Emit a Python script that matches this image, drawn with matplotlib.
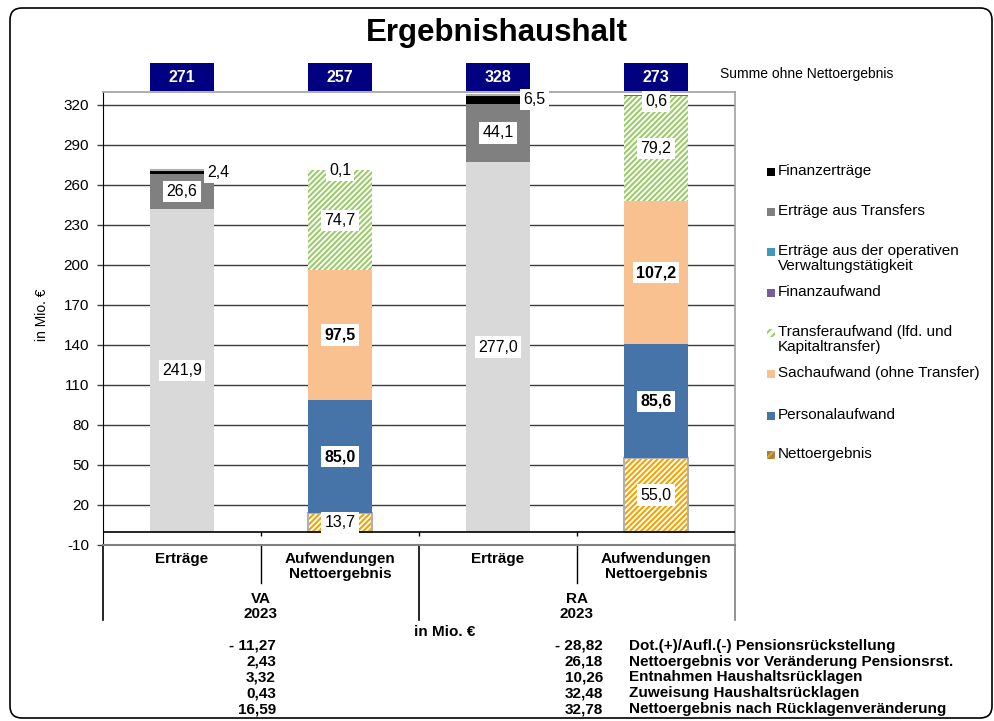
import matplotlib
matplotlib.use("Agg")
import matplotlib.pyplot as plt
from matplotlib.patches import Rectangle, FancyBboxPatch
import matplotlib.transforms as mtransforms
import numpy as np

plt.rcParams['font.family'] = ['Liberation Sans', 'DejaVu Sans']
plt.rcParams['hatch.linewidth'] = 1.5
plt.rcParams['axes.unicode_minus'] = False

# ---------------- data ----------------
categories = ["Erträge", "Aufwendungen\nNettoergebnis", "Erträge", "Aufwendungen\nNettoergebnis"]
groups = ["VA\n2023", "RA\n2023"]

ertraege_operativ = [241.9, 0, 277.0, 0]
ertraege_transfers = [26.6, 0, 44.1, 0]
finanzertraege = [2.4, 0, 6.5, 0]
nettoergebnis = [0, 13.7, 0, 55.0]
personalaufwand = [0, 85.0, 0, 85.6]
sachaufwand = [0, 97.5, 0, 107.2]
transferaufwand = [0, 74.7, 0, 79.2]
finanzaufwand = [0, 0.1, 0, 0.6]
summe_ohne_netto = [271, 257, 328, 273]

yticks = list(range(-10, 321, 30))

table_labels = ["Dot.(+)/Aufl.(-) Pensionsrückstellung",
                "Nettoergebnis vor Veränderung Pensionsrst.",
                "Entnahmen Haushaltsrücklagen",
                "Zuweisung Haushaltsrücklagen",
                "Nettoergebnis nach Rücklagenveränderung"]
table_va = ["- 11,27", "2,43", "3,32", "0,43", "16,59"]
table_ra = ["- 28,82", "26,18", "10,26", "32,48", "32,78"]

legend_labels = ["Finanzerträge", "Erträge aus Transfers",
                 "Erträge aus der operativen\nVerwaltungstätigkeit", "Finanzaufwand",
                 "Transferaufwand (lfd. und\nKapitaltransfer)", "Sachaufwand (ohne Transfer)",
                 "Personalaufwand", "Nettoergebnis"]

# ---------------- figure ----------------
W, H = 995, 721
fig = plt.figure(figsize=(W / 100, H / 100), dpi=100)


def fx(px):
    return px / W


def fy(py):
    return 1 - py / H


ax = fig.add_axes([fx(103), fy(545), fx(735) - fx(103), fy(92) - fy(545)])
ax.set_xlim(-0.5, 3.5)
ytop = -10 + (545 - 92) * 330 / 440
ax.set_ylim(-10, ytop)

for yt in yticks[1:]:
    ax.axhline(yt, color='#3c3c3c', lw=1.0, zorder=0)

ax.set_yticks(yticks)
ax.set_xticks([])
ax.tick_params(axis='y', direction='out', length=4, width=1, color='#404040',
               labelsize=11, pad=6)
for s in ['top', 'right']:
    ax.spines[s].set_color('#a0a0a0')
    ax.spines[s].set_linewidth(1.2)
ax.spines['left'].set_color('black')
ax.spines['bottom'].set_color('#808080')
ax.spines['bottom'].set_linewidth(1.5)

x = np.arange(len(categories))
width = 0.4

GREEN = '#9ccc6a'
ORANGE = '#f5a300'
HATCH = '//////'
series = [
    (ertraege_operativ, dict(color='#d9d9d9'), 'center'),
    (ertraege_transfers, dict(color='#808080'), 'center'),
    (finanzertraege, dict(color='black'), 'side'),
    (nettoergebnis, dict(facecolor='white', edgecolor=ORANGE, hatch=HATCH, linewidth=0), 'center'),
    (personalaufwand, dict(color='#4673a8'), 'bold'),
    (sachaufwand, dict(color='#f9c190'), 'bold'),
    (transferaufwand, dict(facecolor='white', edgecolor=GREEN, hatch=HATCH, linewidth=0), 'center'),
    (finanzaufwand, dict(color='#7a5c9e'), 'top'),
]

bbox = dict(boxstyle='square,pad=0.2', fc='white', ec='none')
LFS = 11.5
bottom = np.zeros(len(x))
for vals, style, lab in series:
    vals = np.array(vals, dtype=float)
    ax.bar(x, vals, width, bottom=bottom, zorder=2, **style)
    if style.get('hatch') and style['edgecolor'] == ORANGE:
        ax.bar(x, vals, width, bottom=bottom, zorder=2, fill=False,
               edgecolor='#b0b0b0', linewidth=1.5)
    for i, v in enumerate(vals):
        if v <= 0:
            continue
        txt = f"{v:.1f}".replace('.', ',')
        yc = bottom[i] + v / 2
        if lab == 'side':
            ax.text(x[i] + width / 2 - 0.04, yc, txt, ha='left', va='center',
                    fontsize=LFS, bbox=bbox, zorder=5)
        elif lab == 'top':
            ax.text(x[i], min(yc, ytop - 7), txt, ha='center', va='center',
                    fontsize=LFS, bbox=bbox, zorder=5)
        else:
            ax.text(x[i], yc, txt, ha='center', va='center', fontsize=LFS,
                    fontweight='bold' if lab == 'bold' else 'normal',
                    bbox=bbox, zorder=5)
    bottom += vals

# zero line and small ticks
ax.axhline(0, color='black', lw=1.2, zorder=3)
ax.vlines([0.5, 1.5, 2.5], -3.5, 0, color='black', lw=1, zorder=3)

trans = mtransforms.blended_transform_factory(ax.transData, fig.transFigure)

# navy sum boxes
for i, s in enumerate(summe_ohne_netto):
    ax.add_patch(Rectangle((x[i] - width / 2, fy(91)), width, fy(63) - fy(91),
                           transform=trans, facecolor='#000080', edgecolor='none',
                           clip_on=False, zorder=4))
    ax.text(x[i], fy(77), str(s), transform=trans, ha='center', va='center',
            color='white', fontweight='bold', fontsize=11.5, zorder=5)
fig.text(fx(720), fy(74), "Summe ohne Nettoergebnis", ha='left', va='center', fontsize=10)

# category separators below the axis
for b in [0.5, 2.5]:
    ax.plot([b, b], [fy(545), fy(583)], transform=trans, color='black', lw=1, clip_on=False)
for b, c in [(-0.5, 'black'), (1.5, 'black'), (3.5, '#808080')]:
    ax.plot([b, b], [fy(545), fy(620)], transform=trans, color=c, lw=1.2, clip_on=False)

for i, c in enumerate(categories):
    ax.text(x[i], fy(552), c, transform=trans, ha='center', va='top',
            fontweight='bold', fontsize=11, linespacing=1.05)
for g, gx in zip(groups, [0.5, 2.5]):
    ax.text(gx, fy(592), g, transform=trans, ha='center', va='top',
            fontweight='bold', fontsize=11, linespacing=1.05)

fig.text(fx(445), fy(632), "in Mio. €", ha='center', va='center', fontweight='bold', fontsize=11)
fig.text(fx(42), fy(315), "in Mio. €", ha='center', va='center', rotation=90, fontsize=10)

# table below
row_y = [646, 662, 677, 693, 709]
TFS = 11
for ry, lab, va_, ra_ in zip(row_y, table_labels, table_va, table_ra):
    fig.text(fx(276), fy(ry), va_, ha='right', va='center', fontweight='bold', fontsize=TFS)
    fig.text(fx(603), fy(ry), ra_, ha='right', va='center', fontweight='bold', fontsize=TFS)
    fig.text(fx(629), fy(ry), lab, ha='left', va='center', fontweight='bold', fontsize=TFS)

# legend (manual)
leg_styles = [
    dict(facecolor='black'),
    dict(facecolor='#808080'),
    dict(facecolor='#3d9bb5'),
    dict(facecolor='#7a5c9e'),
    dict(facecolor='white', edgecolor=GREEN, hatch='////', linewidth=0),
    dict(facecolor='#f9c190'),
    dict(facecolor='#4673a8'),
    dict(facecolor='#a08050', edgecolor=ORANGE, hatch='////', linewidth=0),
]
leg_y = [172, 212, 252, 293, 333, 374, 416, 455]
for lab, st, ly in zip(legend_labels, leg_styles, leg_y):
    st = dict(st)
    st.setdefault('edgecolor', 'none')
    fig.add_artist(Rectangle((fx(767), fy(ly + 4)), fx(8), 8 / H,
                             transform=fig.transFigure, **st))
    fig.text(fx(778), fy(ly - 8), lab, ha='left', va='top', fontsize=11, linespacing=1.05)

fig.text(fx(497), fy(33), "Ergebnishaushalt", ha='center', va='center',
         fontweight='bold', fontsize=22.5)

fig.add_artist(FancyBboxPatch((0.10, 0.03), 9.82, 7.10,
                              boxstyle='round,pad=0,rounding_size=0.12',
                              transform=fig.dpi_scale_trans, fill=False,
                              edgecolor='black', lw=1.2))

fig.savefig("out.png", dpi=100)
